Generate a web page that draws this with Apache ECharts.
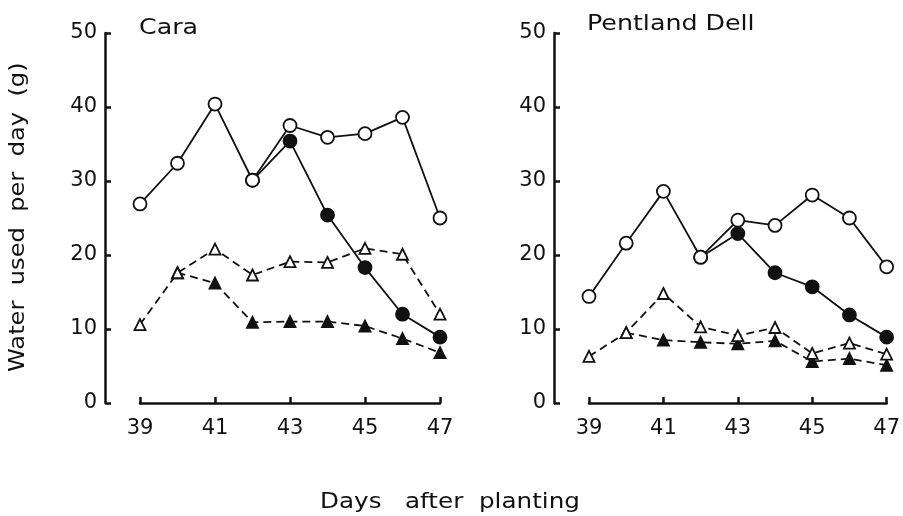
<!doctype html>
<html>
<head>
<meta charset="utf-8">
<title>Water use</title>
<script src="https://cdn.jsdelivr.net/npm/echarts@6/dist/echarts.min.js"></script>
<style>
  html, body { margin: 0; padding: 0; background: #fff; }
  #main { width: 903px; height: 516px; }
</style>
</head>
<body>
<div id="main"></div>
<script>
var days = [39, 40, 41, 42, 43, 44, 45, 46, 47];

// Cara
var caraOpenCircle   = [26.9, 32.4, 40.4, 30.1, 37.5, 35.9, 36.4, 38.6, 25.0];
var caraFilledCircle = [null, null, null, 30.1, 35.4, 25.4, 18.3, 12.0, 8.9];
var caraOpenTri      = [10.6, 17.6, 20.8, 17.3, 19.1, 19.0, 20.9, 20.1, 12.0];
var caraFilledTri    = [null, 17.6, 16.2, 10.9, 11.0, 11.0, 10.4, 8.7, 6.8];

// Pentland Dell
var pdOpenCircle   = [14.4, 21.6, 28.6, 19.7, 24.7, 24.0, 28.1, 25.0, 18.4];
var pdFilledCircle = [null, null, null, 19.7, 22.9, 17.6, 15.7, 11.9, 8.9];
var pdOpenTri      = [6.3, 9.5, 14.8, 10.3, 9.1, 10.2, 6.7, 8.1, 6.6];
var pdFilledTri    = [null, 9.5, 8.5, 8.2, 8.0, 8.4, 5.6, 6.0, 5.1];

var panelTitles = ['Cara', 'Pentland Dell'];

function pairs(vals) {
    var out = [];
    for (var i = 0; i < days.length; i++) {
        if (vals[i] != null) out.push([days[i], vals[i]]);
    }
    return out;
}

var font = 'DejaVu Sans';
var ink = '#111';

function xAx(idx) {
    return {
        type: 'value', gridIndex: idx, min: 39, max: 47, interval: 2,
        axisLine: { show: true, lineStyle: { color: ink, width: 2.5 } },
        axisTick: { show: true, inside: true, length: 6, lineStyle: { color: ink, width: 2.5 } },
        axisLabel: { color: ink, fontFamily: font, fontSize: 21, margin: 15 },
        splitLine: { show: false }
    };
}
function yAx(idx) {
    return {
        type: 'value', gridIndex: idx, min: 0, max: 50, interval: 10, offset: 35,
        axisLine: { show: true, lineStyle: { color: ink, width: 2.5 } },
        axisTick: { show: true, inside: true, length: 6, lineStyle: { color: ink, width: 2.5 } },
        axisLabel: { color: ink, fontFamily: font, fontSize: 21, margin: 8 },
        splitLine: { show: false }
    };
}

function ser(idx, vals, symbol, filled, dashed) {
    return {
        type: 'line', xAxisIndex: idx, yAxisIndex: idx,
        data: pairs(vals),
        symbol: symbol, symbolSize: symbol === 'circle' ? 13 : 11,
        showAllSymbol: true,
        z: filled ? 2 : 3,
        lineStyle: { color: ink, width: 1.8, type: dashed ? [8, 5] : 'solid' },
        itemStyle: { color: filled ? ink : '#fff', borderColor: ink, borderWidth: 1.8 },
        animation: false
    };
}

function label(text, x, y, rot, sx) {
    return {
        type: 'text', x: x, y: y, rotation: rot, scaleX: sx,
        style: { text: text, font: '22px "DejaVu Sans"', fill: ink }
    };
}

var chart = echarts.init(document.getElementById('main'));
chart.setOption({
    backgroundColor: '#fff',
    animation: false,
    grid: [
        { left: 140, width: 300, top: 33, height: 370 },
        { left: 589, width: 299, top: 33, height: 370 }
    ],
    xAxis: [xAx(0), xAx(1)],
    yAxis: [yAx(0), yAx(1)],
    graphic: [
        label(panelTitles[0], 139, 17, 0, 1.15),
        label(panelTitles[1], 587, 13, 0, 1.15),
        label('Days   after  planting', 320, 491, 0, 1.12),
        { type: 'text', x: 8, y: 372, rotation: Math.PI / 2, scaleX: 1.15,
          style: { text: 'Water  used  per  day  (g)', font: '21px "DejaVu Sans"', fill: ink } }
    ],
    series: [
        ser(0, caraFilledCircle, 'circle', true, false),
        ser(0, caraOpenCircle, 'circle', false, false),
        ser(0, caraFilledTri, 'triangle', true, true),
        ser(0, caraOpenTri, 'triangle', false, true),
        ser(1, pdFilledCircle, 'circle', true, false),
        ser(1, pdOpenCircle, 'circle', false, false),
        ser(1, pdFilledTri, 'triangle', true, true),
        ser(1, pdOpenTri, 'triangle', false, true)
    ]
});
</script>
</body>
</html>
